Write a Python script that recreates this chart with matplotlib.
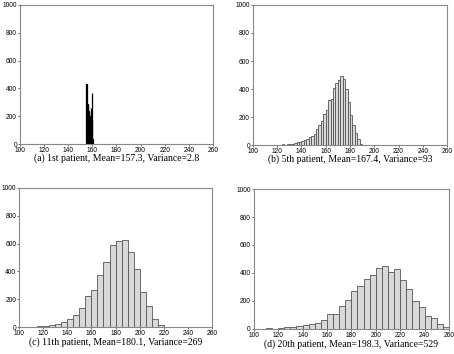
import numpy as np
import matplotlib.pyplot as plt

# panel (a): very narrow spike, bin width 0.5
a_x = [155.0, 155.5, 156.0, 156.5, 157.0, 157.5, 158.0, 158.5, 159.0, 159.5, 160.0]
a_y = [430, 290, 280, 240, 230, 150, 200, 260, 170, 370, 40]

# panel (b): bin width 2
b_x = list(range(122, 190, 2))
b_y = [3, 5, 3, 5, 8, 8, 14, 20, 22, 30, 35, 45, 55, 65, 80, 115, 145, 170, 220, 250,
       320, 330, 405, 440, 465, 495, 470, 400, 305, 215, 145, 85, 45, 10]

# panel (c): bin width 5
c_x = list(range(110, 220, 5))
c_y = [3, 5, 8, 15, 22, 35, 58, 90, 135, 220, 270, 375, 470, 590, 620, 628, 540,
       415, 255, 155, 58, 12]

# panel (d): bin width 5
d_x = list(range(110, 260, 5))
d_y = [5, 0, 5, 10, 12, 18, 28, 35, 42, 65, 108, 108, 165, 205, 270, 305, 355, 385,
       435, 450, 410, 425, 350, 285, 200, 155, 92, 78, 35, 15]

captions = [("(a)", "1st patient, Mean=157.3, Variance=2.8"),
            ("(b)", "5th patient, Mean=167.4, Variance=93"),
            ("(c)", "11th patient, Mean=180.1, Variance=269"),
            ("(d)", "20th patient, Mean=198.3, Variance=529")]

fig = plt.figure(figsize=(4.54, 3.54), dpi=100)
boxes = [[0.044, 0.593, 0.425, 0.393],
         [0.557, 0.590, 0.428, 0.396],
         [0.042, 0.076, 0.425, 0.393],
         [0.559, 0.071, 0.430, 0.395]]
cap_y = [158.5, 159.5, 342.5, 344]

data = [(a_x, a_y, 0.5), (b_x, b_y, 2), (c_x, c_y, 5), (d_x, d_y, 5)]

for i, (xs, ys, w) in enumerate(data):
    ax = fig.add_axes(boxes[i])
    if i == 0:
        ax.bar(xs, ys, width=w, align="edge", color="#bbbbbb",
               edgecolor="black", linewidth=0.9)
    else:
        ax.bar(xs, ys, width=w, align="edge", color="#d9d9d9",
               edgecolor="#555555", linewidth=0.6)
    ax.set_xlim(100, 260)
    ax.set_ylim(0, 1000)
    ax.set_xticks(range(100, 261, 20))
    ax.set_yticks(range(0, 1001, 200))
    for s in ax.spines.values():
        s.set_color("#888888")
        s.set_linewidth(0.8)
    ax.tick_params(labelsize=4.8, length=1.5, width=0.6, color="#555555", pad=0.6)
    for lab in ax.get_xticklabels() + ax.get_yticklabels():
        lab.set_fontfamily("Liberation Sans")
    b = boxes[i]
    cx = b[0] + b[2] / 2
    fig.text(cx, 1 - cap_y[i] / 354, captions[i][0] + " " + captions[i][1],
             ha="center", va="center", fontsize=7, family="Liberation Serif")

fig.savefig("out.png", dpi=100)
